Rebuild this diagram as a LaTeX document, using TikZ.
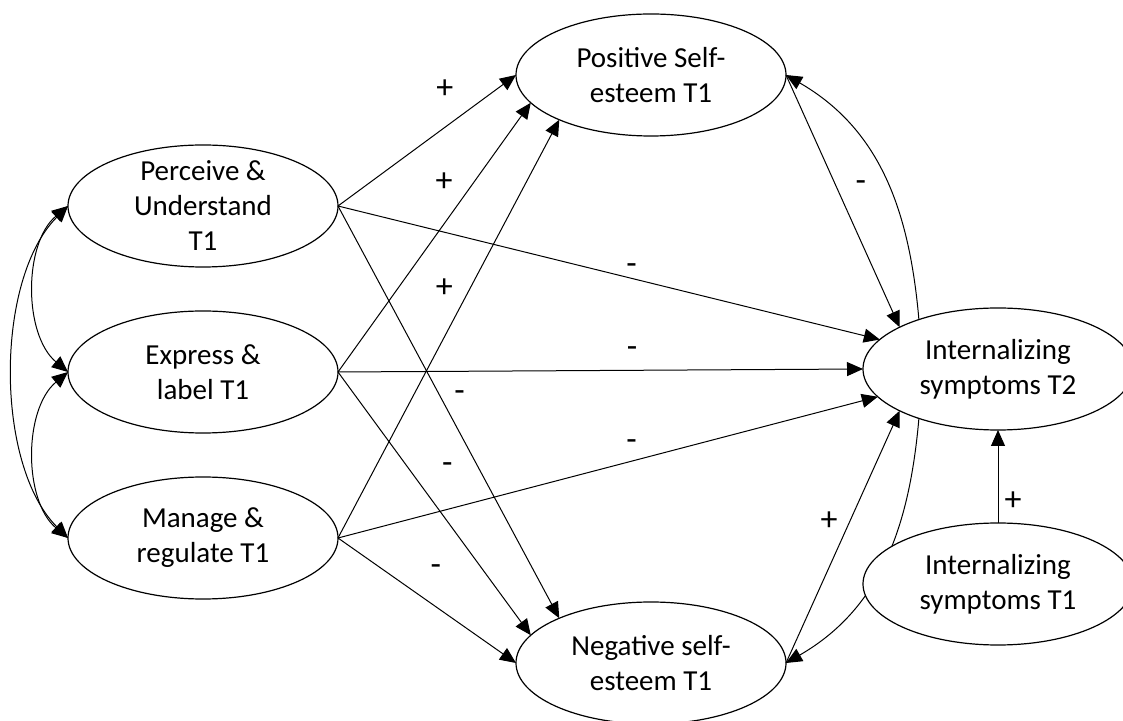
\documentclass[tikz,border=0pt]{standalone}
\usepackage{fontspec}
\setmainfont{Carlito}
\usepackage{tkz-graph}
\usetikzlibrary{arrows.meta,shapes.geometric}

\begin{document}
\begin{tikzpicture}[x=1pt,y=1pt]
	\useasboundingbox (0,0) rectangle (1123,720);
	\tikzset{VertexStyle/.style = {draw, ellipse, line width=1.2pt, fill=white,
		minimum width=270pt, minimum height=122pt, inner sep=-20pt, align=center,
		font=\fontsize{29}{35}\selectfont}}
	\tikzset{EdgeStyle/.style = {-{Triangle[length=16pt,width=14pt]}, line width=1pt}}
	\tikzset{LabelStyle/.style = {inner sep=0pt, font=\fontsize{34}{40}\selectfont}}
		\Vertex[x=203,y=514,L={Perceive \&\\Understand\\T1}]{PU}
		\Vertex[x=203,y=348,L={Express \&\\label T1}]{EL}
		\Vertex[x=203,y=182,L={Manage \&\\regulate T1}]{MR}
		\Vertex[x=651,y=645,L={Positive Self-\\esteem T1}]{PS}
		\Vertex[x=651,y=57,L={Negative self-\\esteem T1}]{NS}
		\Vertex[x=998,y=351,L={Internalizing\\symptoms T2}]{IST2}
	\begin{scope}[EdgeStyle/.append style = {{Triangle[length=16pt,width=14pt]}-{Triangle[length=16pt,width=14pt]}}]
		\Edge[style={out=220,in=140,looseness=0.9}](PU.west)(EL.west)
		\Edge[style={out=220,in=140,looseness=0.9}](EL.west)(MR.west)
		\Edge[style={out=225,in=135,looseness=0.8}](PU.west)(MR.west)
	\end{scope}
		\Edge[label={+},labelstyle={pos=0.6,yshift=38pt}](PU.east)(PS.west)
		\Edge[label={+},labelstyle={pos=0.706,xshift=-30pt}](EL.east)(PS.193)
		\Edge[label={+},labelstyle={pos=0.598,xshift=-26pt}](MR.east)(PS.206)
		\Edge[label={-},labelstyle={pos=0.454,xshift=21pt,yshift=-3pt}](PU.east)(NS.154)
		\Edge[label={-},labelstyle={pos=0.354,xshift=41pt,yshift=-3pt}](EL.east)(NS.167)
		\Edge[label={-},labelstyle={pos=0.55,yshift=37pt}](MR.east)(NS.west)
		\Edge[label={-},labelstyle={pos=0.542,yshift=9pt}](PU.east)(IST2.166)
		\Edge[label={-},labelstyle={pos=0.56,yshift=18pt}](EL.east)(IST2.west)
		\Edge[label={-},labelstyle={pos=0.544,yshift=16pt}](MR.east)(IST2.193)
		\Edge[label={-},labelstyle={pos=0.429,xshift=26pt,yshift=-3pt}](PS.east)(IST2.157)
		\Edge[label={+},labelstyle={pos=0.563,xshift=-21pt}](NS.east)(IST2.203)
		\Edge[style={out=95,in=-30}](IST2.148)(PS.east)
		\Edge[style={out=-95,in=30}](IST2.212)(NS.east)
		\Vertex[x=998,y=136,L={Internalizing\\symptoms T1}]{IST1}
		\Edge[label={+},labelstyle={pos=0.23,xshift=15pt}](IST1.north)(IST2.south)
\end{tikzpicture}
\end{document}
